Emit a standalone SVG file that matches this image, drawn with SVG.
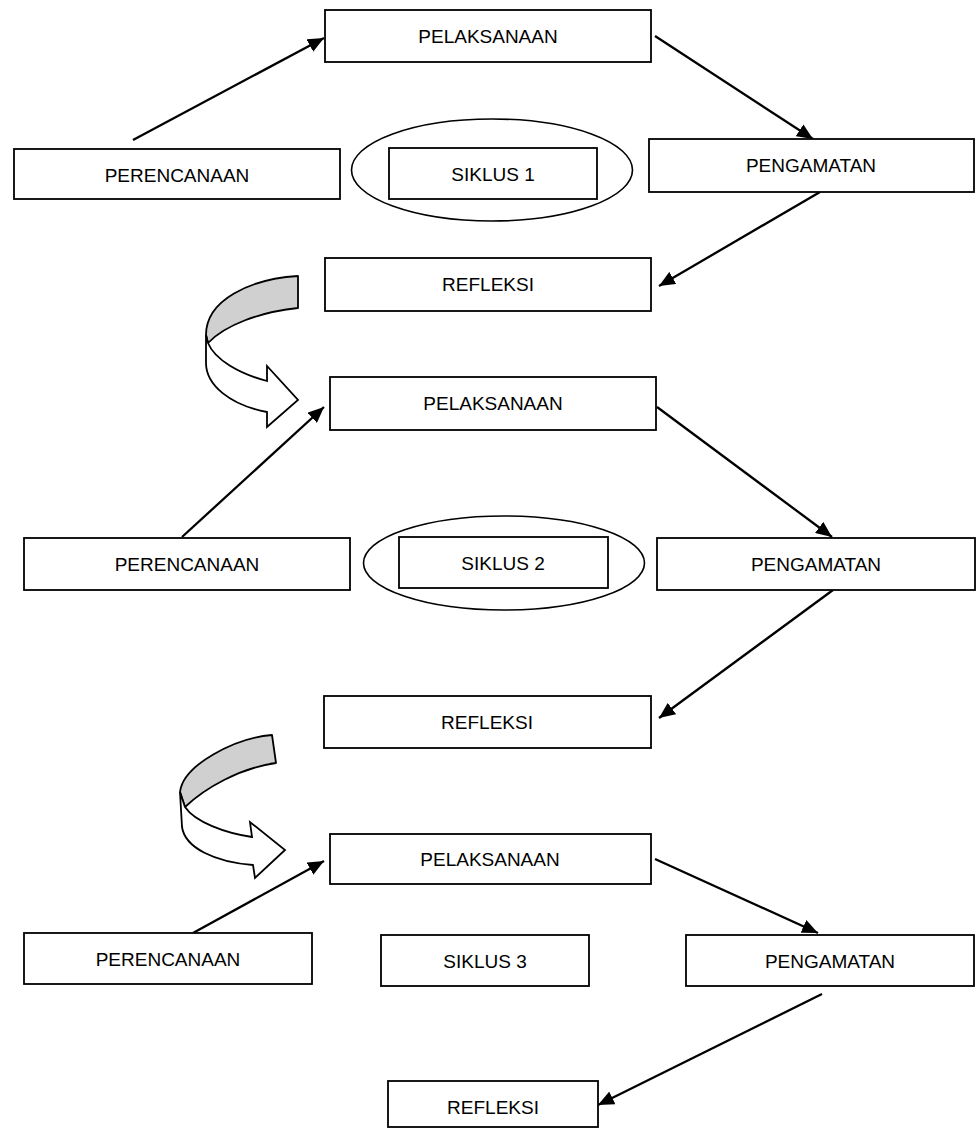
<svg xmlns="http://www.w3.org/2000/svg" width="976" height="1129" viewBox="0 0 976 1129">
<style>
.box{fill:#fff;stroke:#000;stroke-width:1.8}
.ell{fill:#fff;stroke:#000;stroke-width:1.6}
.lbl{font-family:"Liberation Sans",Arial,sans-serif;font-size:19px;fill:#000;text-anchor:middle}
.con{stroke:#000;stroke-width:2.3;fill:none;marker-end:url(#ah)}
.cg{fill:#d0d0d0;stroke:#000;stroke-width:1.8;stroke-linejoin:round}
.cw{fill:#fff;stroke:#000;stroke-width:1.8;stroke-linejoin:miter}
</style>
<defs>
<marker id="ah" markerUnits="userSpaceOnUse" markerWidth="17" markerHeight="14" refX="16" refY="7" orient="auto">
<path d="M0,0 L16,7 L0,14 Z" fill="#000"/>
</marker>
</defs>
<rect width="976" height="1129" fill="#fff"/>

<g id="siklus1-ellipse"><ellipse class="ell" cx="492" cy="170" rx="140.5" ry="51"/></g>
<g id="siklus2-ellipse"><ellipse class="ell" cx="504" cy="563" rx="140.5" ry="47"/></g>

<g id="connectors">
<line class="con" x1="133" y1="140" x2="324" y2="38"/>
<line class="con" x1="655" y1="36" x2="813" y2="139"/>
<line class="con" x1="820" y1="192" x2="659" y2="286"/>
<line class="con" x1="182" y1="537" x2="324" y2="407"/>
<line class="con" x1="657" y1="407" x2="832" y2="537"/>
<line class="con" x1="833" y1="590" x2="659" y2="718"/>
<line class="con" x1="193" y1="933" x2="324" y2="861"/>
<line class="con" x1="655" y1="859" x2="818" y2="933"/>
<line class="con" x1="822" y1="994" x2="598" y2="1105"/>
</g>

<g id="curved-arrow-1">
<path class="cg" d="M298,276 C250,279 206,300 206,335 L208,343 C225,325 260,312 298,308 Z"/>
<path class="cw" d="M206,335 L206,363 C206,385 230,405 267,412 L267,427 L298,400 L267,366 L267,381 C240,374 215,360 208,343 Z"/>
</g>
<g id="curved-arrow-2">
<path class="cg" d="M272,735 C235,738 183,765 180,792 L185,807 C205,788 240,768 276,763 Z"/>
<path class="cw" d="M180,792 L182,827 C185,848 215,862 253,865 L255,878 L285,850 L250,822 L252,837 C225,833 195,822 185,807 Z"/>
</g>

<g id="pelaksanaan1"><rect class="box" x="325" y="10" width="326" height="52"/><text class="lbl" x="488" y="43">PELAKSANAAN</text></g>
<g id="perencanaan1"><rect class="box" x="14" y="149" width="326" height="50"/><text class="lbl" x="177" y="182">PERENCANAAN</text></g>
<g id="siklus1"><rect class="box" x="389" y="148" width="208" height="51"/><text class="lbl" x="493" y="181">SIKLUS 1</text></g>
<g id="pengamatan1"><rect class="box" x="649" y="139" width="325" height="53"/><text class="lbl" x="811" y="172">PENGAMATAN</text></g>
<g id="refleksi1"><rect class="box" x="325" y="258" width="326" height="53"/><text class="lbl" x="488" y="291">REFLEKSI</text></g>

<g id="pelaksanaan2"><rect class="box" x="330" y="377" width="326" height="53"/><text class="lbl" x="493" y="410">PELAKSANAAN</text></g>
<g id="perencanaan2"><rect class="box" x="24" y="538" width="326" height="52"/><text class="lbl" x="187" y="571">PERENCANAAN</text></g>
<g id="siklus2"><rect class="box" x="399" y="537" width="209" height="51"/><text class="lbl" x="503" y="570">SIKLUS 2</text></g>
<g id="pengamatan2"><rect class="box" x="657" y="538" width="318" height="52"/><text class="lbl" x="816" y="571">PENGAMATAN</text></g>
<g id="refleksi2"><rect class="box" x="324" y="696" width="327" height="52"/><text class="lbl" x="487" y="729">REFLEKSI</text></g>

<g id="pelaksanaan3"><rect class="box" x="330" y="834" width="321" height="50"/><text class="lbl" x="490" y="866">PELAKSANAAN</text></g>
<g id="perencanaan3"><rect class="box" x="24" y="933" width="288" height="51"/><text class="lbl" x="168" y="966">PERENCANAAN</text></g>
<g id="siklus3"><rect class="box" x="381" y="935" width="208" height="51"/><text class="lbl" x="485" y="968">SIKLUS 3</text></g>
<g id="pengamatan3"><rect class="box" x="686" y="935" width="288" height="51"/><text class="lbl" x="830" y="968">PENGAMATAN</text></g>
<g id="refleksi3"><rect class="box" x="388" y="1081" width="210" height="46"/><text class="lbl" x="493" y="1114">REFLEKSI</text></g>
</svg>
